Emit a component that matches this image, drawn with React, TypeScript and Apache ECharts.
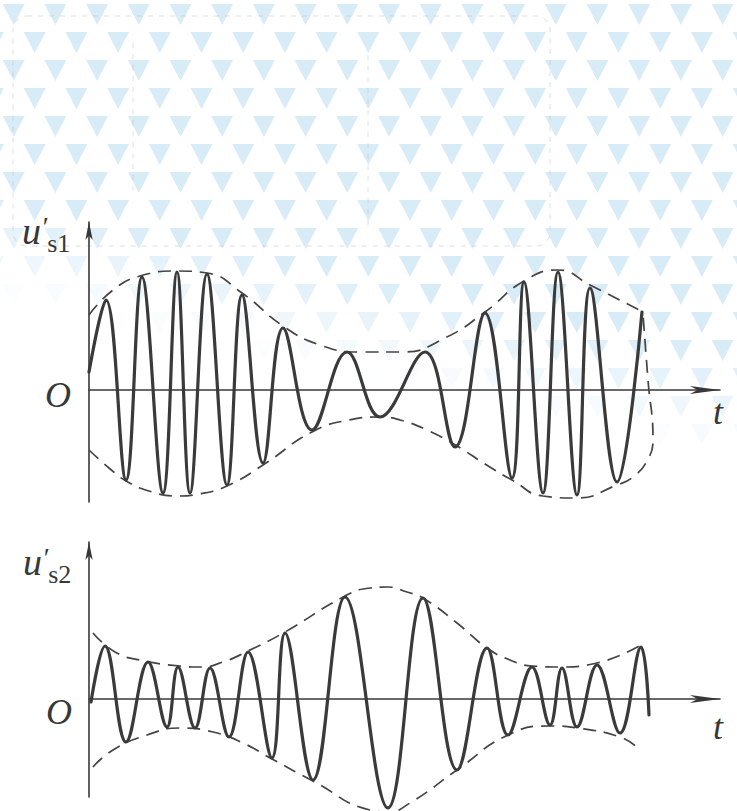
import React, { useEffect, useRef } from "react";
import * as echarts from "echarts";

// ---- Top panel u′s1 : waveform extrema (t, u) ----
const s1WaveT = [0, 17, 37, 53, 74, 88, 101, 118, 138, 153, 174, 194, 223, 258, 291, 336, 366, 396, 423, 435, 454, 469, 488, 501, 528, 553];
const s1WaveU = [18, 90, -90, 113, -103, 118, -103, 116, -95, 95, -73, 62, -40, 38, -27, 38, -57, 77, -88, 108, -103, 118, -105, 102, -92, 78];
// upper dashed envelope
const s1EnvUpperT = [0, 24, 51, 88, 118, 153, 194, 231, 271, 314, 356, 396, 435, 469, 501, 554];
const s1EnvUpperU = [75, 100, 114, 119, 117, 97, 64, 45, 38, 38, 52, 78, 109, 120, 105, 78];
// lower dashed envelope, closing up the right-hand edge
const s1EnvLowerT = [0, 20, 37, 60, 88, 110, 138, 174, 223, 260, 291, 311, 338, 368, 396, 423, 454, 488, 528, 544, 558, 564, 559, 554];
const s1EnvLowerU = [-60, -78, -91, -101, -106, -104, -96, -75, -42, -30, -27, -30, -40, -56, -74, -90, -106, -108, -95, -87, -71, -50, 10, 76];

// ---- Bottom panel u′s2 ----
const s2WaveT = [2, 16, 37, 59, 78, 89, 106, 121, 140, 159, 183, 196, 224, 256, 299, 334, 368, 398, 419, 443, 461, 473, 488, 508, 531, 552, 560];
const s2WaveU = [-3, 53, -43, 37, -28, 32, -29, 31, -38, 47, -59, 66, -81, 102, -109, 101, -71, 51, -36, 32, -26, 31, -28, 34, -34, 52, -16];
const s2EnvUpperT = [4, 26, 51, 91, 111, 134, 159, 196, 256, 281, 299, 318, 334, 368, 398, 421, 443, 471, 508, 552];
const s2EnvUpperU = [66, 47, 39, 33, 32, 37, 48, 67, 103, 111, 112, 107, 101, 76, 51, 39, 33, 32, 36, 54];
const s2EnvLowerT = [4, 24, 58, 91, 124, 154, 183, 224, 281, 299, 321, 368, 419, 461, 488, 531, 549];
const s2EnvLowerU = [-68, -51, -36, -29, -33, -44, -60, -82, -111, -113, -104, -71, -36, -27, -29, -38, -49];

// axis ranges
const tMax = 631;
const s1Range = [-112, 168];
const s2Range = [-98, 157];

const zip = (t: number[], u: number[]) => t.map((v, i) => [v, u[i]]);

const INK = "#383838";
const SERIF = "Liberation Serif";

export default function App() {
  const ref = useRef<HTMLDivElement>(null);

  useEffect(() => {
    if (!ref.current) return;
    const chart = echarts.init(ref.current, null, { renderer: "svg" });

    // faint scanned background pattern of blue triangles (decoration)
    const pattern: any[] = [];
    for (let k = 0; k < 17; k++) {
      const top = 4 + 28 * k;
      const offset = k % 2 === 1 ? 34.7 : 13.7;
      for (let j = -1; j < 19; j++) {
        const cx = offset + 41.7 * j;
        const fadeEnd = 290 + (cx / 737) * 160;
        const op = Math.max(0, Math.min(1, (fadeEnd - top) / 100));
        if (op <= 0) continue;
        pattern.push({
          type: "polygon",
          silent: true,
          z: -10,
          shape: { points: [[cx - 11, top], [cx + 11, top], [cx, top + 21]] },
          style: { fill: "#d8ecf7", opacity: op },
        });
      }
    }

    const axisLineX = {
      show: true,
      onZero: true,
      symbol: ["none", "arrow"],
      symbolSize: [6, 30],
      lineStyle: { color: INK, width: 1.6 },
    };
    const axisLineY = {
      show: true,
      onZero: false,
      symbol: ["none", "arrow"],
      symbolSize: [5.5, 18],
      lineStyle: { color: INK, width: 1.6 },
    };
    const hidden = {
      axisTick: { show: false },
      axisLabel: { show: false },
      splitLine: { show: false },
    };

    const wave = (data: number[][], idx: number) => ({
      type: "line",
      xAxisIndex: idx,
      yAxisIndex: idx,
      data,
      smooth: 0.4,
      showSymbol: false,
      symbol: "none",
      clip: false,
      silent: true,
      z: 5,
      lineStyle: { color: "#3a3a3a", width: 3.2, cap: "round", join: "round" },
    });
    const env = (data: number[][], idx: number) => ({
      type: "line",
      xAxisIndex: idx,
      yAxisIndex: idx,
      data,
      smooth: 0.5,
      showSymbol: false,
      symbol: "none",
      clip: false,
      silent: true,
      z: 4,
      lineStyle: { color: "#444", width: 1.7, type: [13, 8] },
    });

    const plain = (text: string, x: number, y: number, size: number, align = "left") => ({
      type: "text",
      x,
      y,
      silent: true,
      z: 10,
      style: {
        text,
        fontFamily: SERIF,
        fontStyle: "italic",
        fontSize: size,
        fill: INK,
        textAlign: align,
        align,
        textVerticalAlign: "middle",
        verticalAlign: "middle",
      },
    });

    // u′ with subscript as one rich text
    const symLabel = (sub: string, x: number, top: number) => ({
      type: "text",
      x,
      y: top,
      silent: true,
      z: 10,
      style: {
        text: `{u|u}{p|′}{s|${sub}}`,
        fill: INK,
        textAlign: "left",
        align: "left",
        textVerticalAlign: "top",
        verticalAlign: "top",
        rich: {
          u: { fontFamily: SERIF, fontStyle: "italic", fontSize: 38, lineHeight: 38, verticalAlign: "top", fill: INK },
          p: { fontFamily: SERIF, fontStyle: "italic", fontSize: 28, lineHeight: 44, verticalAlign: "top", fill: INK },
          s: { fontFamily: SERIF, fontSize: 26, lineHeight: 27, verticalAlign: "bottom", fill: INK },
        },
      },
    });

    chart.setOption({
      animation: false,
      backgroundColor: "#ffffff",
      grid: [
        { left: 89, top: 222, width: tMax, height: s1Range[1] - s1Range[0] },
        { left: 89, top: 542, width: tMax, height: s2Range[1] - s2Range[0] },
      ],
      xAxis: [
        { gridIndex: 0, type: "value", min: 0, max: tMax, axisLine: axisLineX, ...hidden },
        { gridIndex: 1, type: "value", min: 0, max: tMax, axisLine: axisLineX, ...hidden },
      ],
      yAxis: [
        { gridIndex: 0, type: "value", min: s1Range[0], max: s1Range[1], axisLine: axisLineY, ...hidden },
        { gridIndex: 1, type: "value", min: s2Range[0], max: s2Range[1], axisLine: axisLineY, ...hidden },
      ],
      series: [
        env(zip(s1EnvUpperT, s1EnvUpperU), 0),
        env(zip(s1EnvLowerT, s1EnvLowerU), 0),
        wave(zip(s1WaveT, s1WaveU), 0),
        env(zip(s2EnvUpperT, s2EnvUpperU), 1),
        env(zip(s2EnvLowerT, s2EnvLowerU), 1),
        wave(zip(s2WaveT, s2WaveU), 1),
      ],
      graphic: {
        elements: [
          ...pattern,
          {
            type: "rect",
            silent: true,
            z: -5,
            shape: { x: 13, y: 16, width: 537, height: 230, r: 14 },
            style: { fill: "none", stroke: "#b5b5b5", lineWidth: 1, lineDash: [5, 6], opacity: 0.45 },
          },
          {
            type: "line",
            silent: true,
            z: -5,
            shape: { x1: 133, y1: 43, x2: 133, y2: 190 },
            style: { stroke: "#b5b5b5", lineWidth: 1, lineDash: [5, 6], opacity: 0.4 },
          },
          {
            type: "line",
            silent: true,
            z: -5,
            shape: { x1: 368, y1: 55, x2: 368, y2: 230 },
            style: { stroke: "#b5b5b5", lineWidth: 1, lineDash: [5, 6], opacity: 0.4 },
          },
          // top panel labels
          symLabel("s1", 22, 212),
          plain("O", 58, 395, 36, "center"),
          plain("t", 718, 412, 36, "center"),
          // bottom panel labels
          symLabel("s2", 23, 543),
          plain("O", 59, 712, 36, "center"),
          plain("t", 718, 727, 36, "center"),
        ],
      },
    });

    return () => chart.dispose();
  }, []);

  return (
    <div
      ref={ref}
      style={{ position: "absolute", left: 0, top: 0, width: 737, height: 811, background: "#fff" }}
    />
  );
}
